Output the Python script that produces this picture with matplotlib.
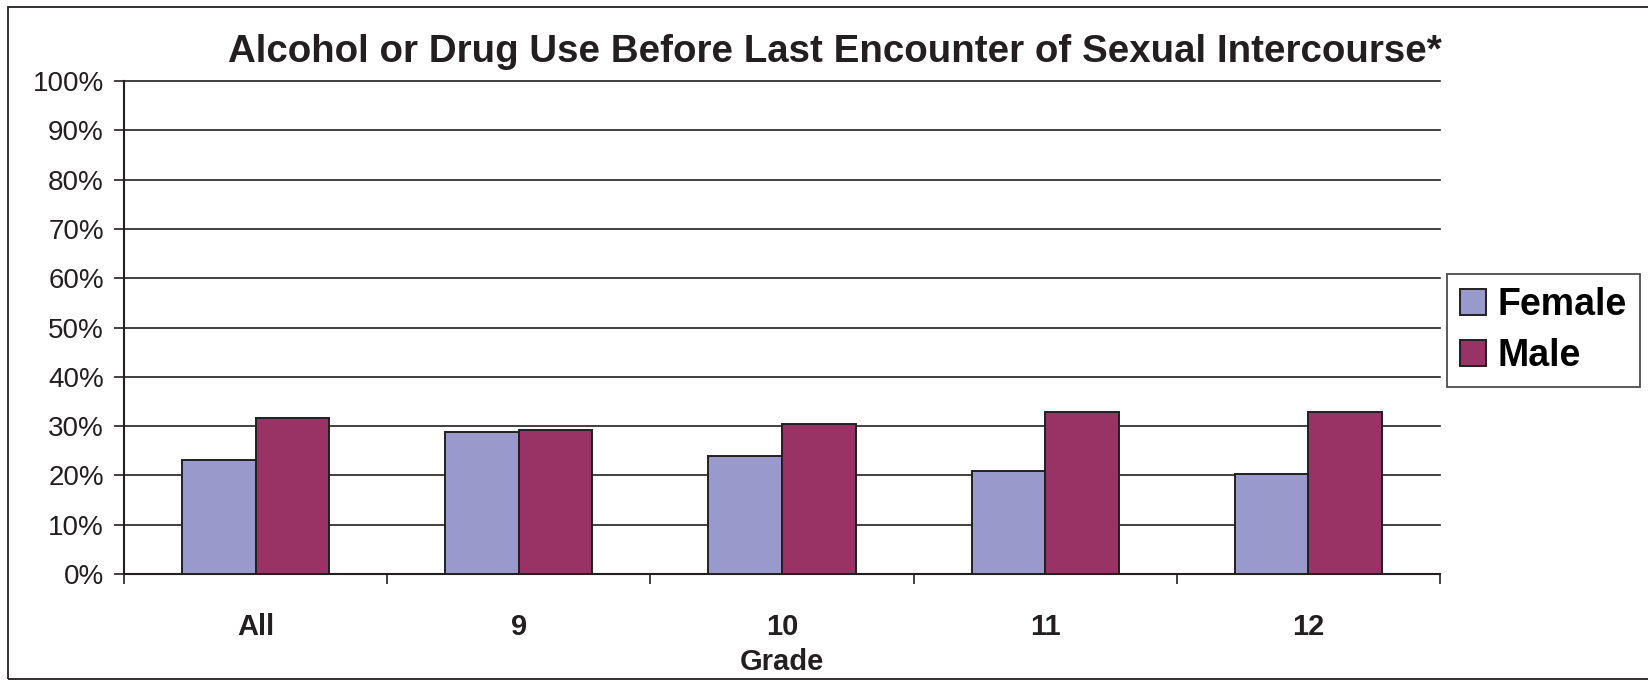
import matplotlib
matplotlib.use("Agg")
import matplotlib.pyplot as plt
import numpy as np
from matplotlib import font_manager
from matplotlib.patches import Rectangle
from matplotlib.ticker import FuncFormatter, MultipleLocator

grades = ["All", "9", "10", "11", "12"]
female = [23.2, 28.8, 24.0, 20.8, 20.3]
male = [31.6, 29.3, 30.5, 32.8, 32.8]

names = {f.name for f in font_manager.fontManager.ttflist}
narrow = "Liberation Sans Narrow" if "Liberation Sans Narrow" in names else "Liberation Sans"
plt.rcParams["font.family"] = ["Liberation Sans", "DejaVu Sans"]

W, H = 1648, 680
fig = plt.figure(figsize=(W / 100, H / 100), dpi=100)

# outer chart frame (right edge is cut off in the original)
fig.patches.append(Rectangle((8 / W, 1 - 679 / H), 2, (679 - 7) / H,
                             transform=fig.transFigure, fill=False,
                             edgecolor="#231f20", linewidth=1.3))

ax = fig.add_axes([124 / W, 1 - 574 / H, (1440 - 124) / W, (574 - 81) / H])

x = np.arange(len(grades))
bw = 0.28
ax.bar(x - bw / 2, female, bw, color="#9999cc", edgecolor="#231f20", linewidth=1.4,
       label="Female", zorder=3)
ax.bar(x + bw / 2, male, bw, color="#993366", edgecolor="#231f20", linewidth=1.4,
       label="Male", zorder=3)

ax.set_xlim(-0.5, len(grades) - 0.5)
ax.set_ylim(0, 100)
ax.yaxis.set_major_locator(MultipleLocator(10))
ax.yaxis.set_major_formatter(FuncFormatter(lambda v, _: f"{int(v)}%"))
ax.grid(axis="y", color="#231f20", linewidth=1.2, zorder=0)
for gl in ax.get_ygridlines():
    gl.set_clip_on(False)

ax.set_xticks(x)
ax.set_xticklabels(grades, fontfamily=narrow, fontweight="bold", fontsize=21)
ax.set_xticks(np.arange(-0.5, len(grades)), minor=True)
ax.tick_params(axis="x", which="major", length=0, pad=28, colors="#231f20")
ax.tick_params(axis="x", which="minor", length=7.5, width=1.2, color="#231f20")
ax.tick_params(axis="y", length=7.5, width=1.2, labelsize=20, pad=7,
               color="#231f20", labelcolor="#231f20")
ax.set_xlabel("Grade", fontfamily=narrow, fontweight="bold", fontsize=21,
              labelpad=5, color="#231f20")

for s in ["top", "right"]:
    ax.spines[s].set_visible(False)
for s in ["left", "bottom"]:
    ax.spines[s].set_color("#231f20")
    ax.spines[s].set_linewidth(1.5)

fig.text(835 / W, 1 - 52 / H, "Alcohol or Drug Use Before Last Encounter of Sexual Intercourse*",
         ha="center", va="center", fontsize=27.7, fontweight="bold", color="#231f20")

leg = fig.legend(loc="upper left", bbox_to_anchor=(1447 / W, 1 - 274 / H),
                 prop={"size": 27, "weight": "bold"}, frameon=True, fancybox=False,
                 edgecolor="#231f20", handlelength=0.7, handleheight=0.7,
                 handletextpad=0.3, borderpad=0.35, labelspacing=0.4, borderaxespad=0)
leg.get_frame().set_linewidth(1.3)

fig.savefig("out.png", dpi=100)
